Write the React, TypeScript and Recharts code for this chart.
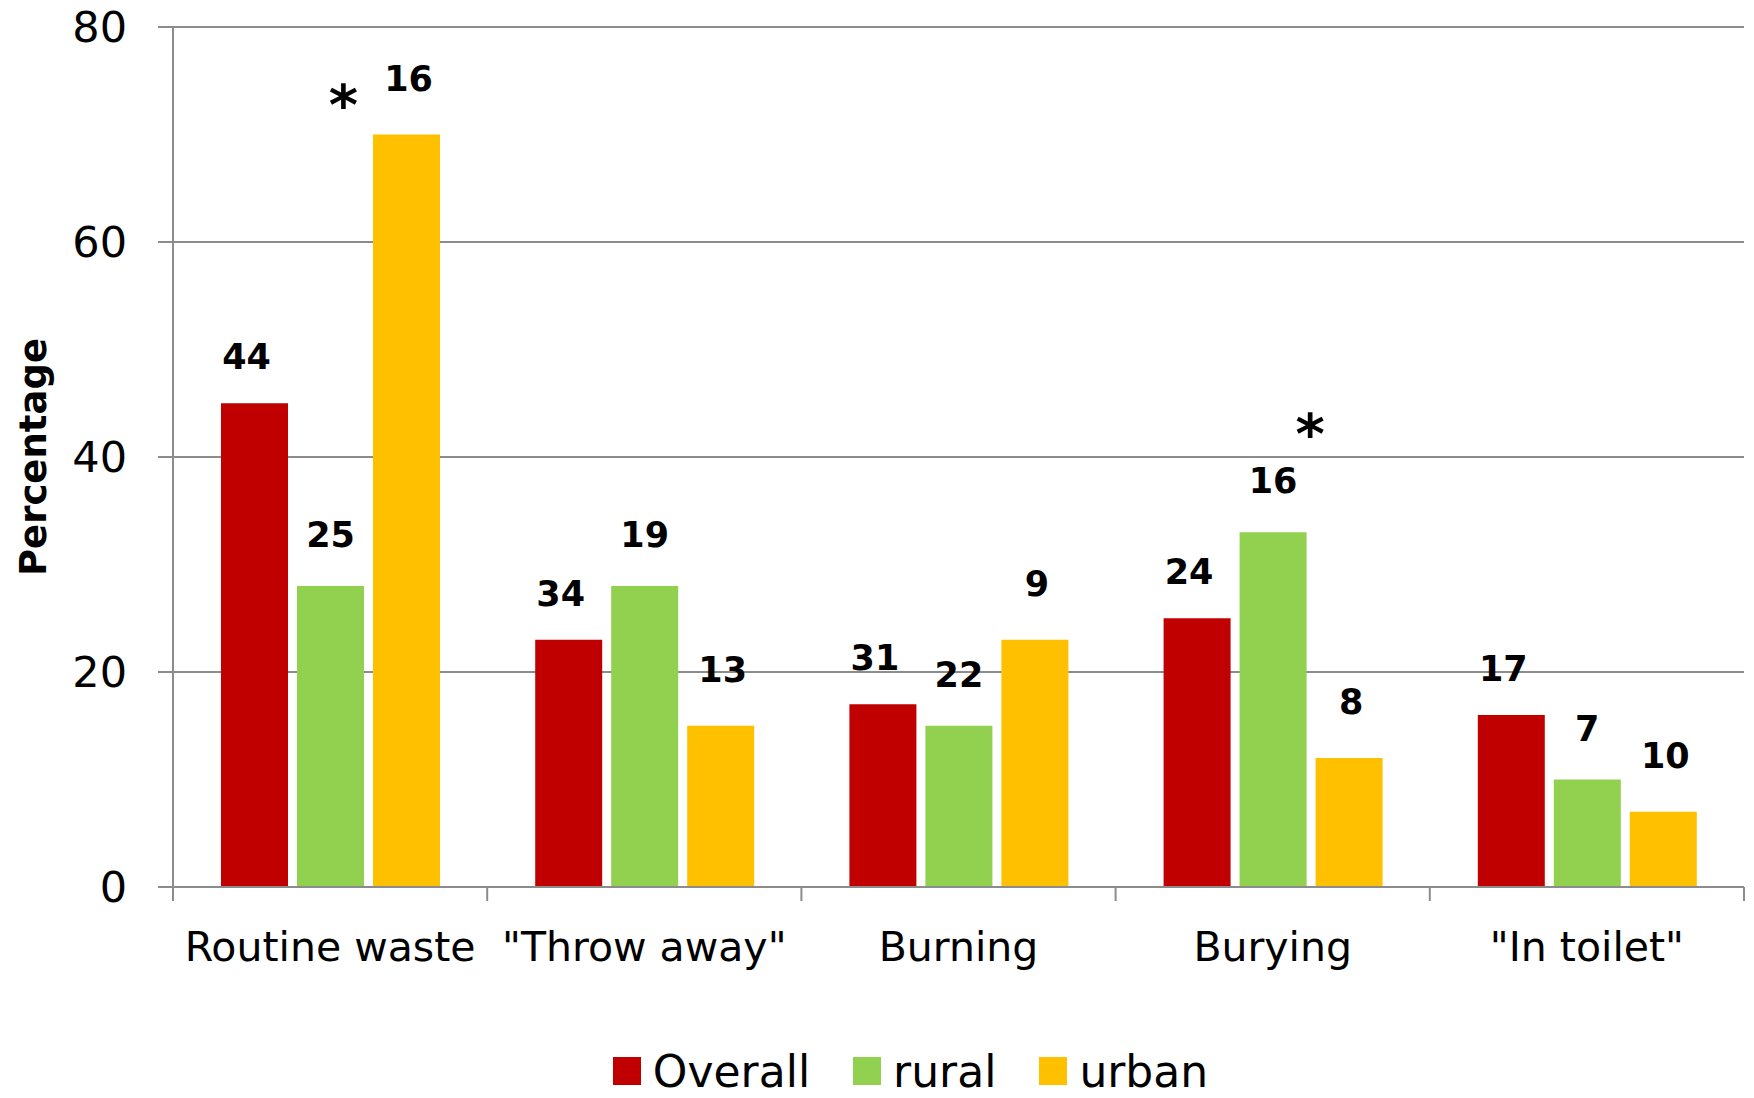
import { Bar, BarChart, CartesianGrid, LabelList, Legend, XAxis, YAxis } from "recharts";

const categories = ["Routine waste", "\"Throw away\"", "Burning", "Burying", "\"In toilet\""];
const overall = [45, 23, 17, 25, 16];
const rural = [28, 28, 15, 33, 10];
const urban = [70, 15, 23, 12, 7];
// numbers printed above the bars
const overallLabels = [44, 34, 31, 24, 17];
const ruralLabels = [25, 19, 22, 16, 7];
const urbanLabels = [16, 13, 9, 8, 10];
const ruralStars = ["", "", "", "*", ""];
const urbanStars = ["*", "", "", "", ""];
const yTicks = [0, 20, 40, 60, 80];

const GRID = "#8c8c8c";
const FONT = "'DejaVu Sans', sans-serif";
const TICK_MARGIN = 45;

const rows = categories.map((name, i) => ({
  name,
  overall: overall[i],
  rural: rural[i],
  urban: urban[i],
  overallN: overallLabels[i],
  ruralN: ruralLabels[i],
  urbanN: urbanLabels[i]
}));

const series = [
  { key: "overall", labelKey: "overallN", name: "Overall", color: "#C00000", lift: 46, dx: -8, stars: null as string[] | null, starDx: 0, starDy: 0 },
  { key: "rural", labelKey: "ruralN", name: "rural", color: "#92D050", lift: 51, dx: 0, stars: ruralStars, starDx: 37, starDy: -48 },
  { key: "urban", labelKey: "urbanN", name: "urban", color: "#FFC000", lift: 56, dx: 2, stars: urbanStars, starDx: -63, starDy: 26 }
];

function makeLabel(s: (typeof series)[number]) {
  return (props: any) => {
    const { x, y, width, value, index } = props;
    const cx = Number(x) + Number(width) / 2 + s.dx;
    const cy = Number(y) - s.lift;
    const star = s.stars ? s.stars[index] : "";
    return (
      <g>
        <text x={cx} y={cy} textAnchor="middle" dominantBaseline="central" fontSize={35} fontWeight="bold" fill="#000">
          {value}
        </text>
        {star ? (
          <text x={cx - s.dx + s.starDx} y={cy + s.starDy} textAnchor="middle" dominantBaseline="central" fontSize={56} fontWeight="bold" fill="#000">
            {star}
          </text>
        ) : null}
      </g>
    );
  };
}

// category label plus the tick marks on the category boundaries
function CategoryTick(props: any) {
  const { x, y, payload } = props;
  const half = payload && payload.offset ? payload.offset : 157.1;
  const axisY = y - TICK_MARGIN;
  const last = payload.index === categories.length - 1;
  return (
    <g>
      <line x1={x - half} x2={x - half} y1={axisY} y2={axisY + 14} stroke={GRID} strokeWidth={2} />
      {last ? <line x1={x + half} x2={x + half} y1={axisY} y2={axisY + 14} stroke={GRID} strokeWidth={2} /> : null}
      <text x={x} y={y} dy="0.71em" textAnchor="middle" fontSize={41} fill="#000">
        {payload.value}
      </text>
    </g>
  );
}

function LegendBox() {
  return (
    <div style={{ height: 54, display: "flex", justifyContent: "center", alignItems: "center", paddingLeft: 120, fontFamily: FONT }}>
      {series.map((s) => (
        <div key={s.key} style={{ display: "flex", alignItems: "center", marginRight: 43 }}>
          <span style={{ width: 28, height: 28, background: s.color, display: "inline-block", marginRight: 12 }} />
          <span style={{ fontSize: 44, color: "#000", lineHeight: "normal" }}>{s.name}</span>
        </div>
      ))}
    </div>
  );
}

export default function App() {
  return (
    <div style={{ position: "absolute", left: 0, top: 0, width: 1754, height: 1098, background: "#fff", fontFamily: FONT }}>
      <BarChart width={1754} height={1098} data={rows} margin={{ top: 27, right: 10, bottom: 0, left: 0 }} barGap={9} barSize={67}>
        <CartesianGrid horizontal vertical={false} stroke={GRID} strokeWidth={2} />
        <XAxis
          dataKey="name"
          interval={0}
          height={157}
          tickLine={false}
          tickSize={0}
          tickMargin={TICK_MARGIN}
          axisLine={{ stroke: GRID, strokeWidth: 2 }}
          tick={<CategoryTick />}
        />
        <YAxis
          domain={[0, 80]}
          ticks={yTicks}
          width={173}
          tickSize={15}
          tickMargin={31}
          axisLine={{ stroke: GRID, strokeWidth: 2 }}
          tickLine={{ stroke: GRID, strokeWidth: 2 }}
          tick={{ fontSize: 43, fill: "#000" }}
          label={{
            content: (p: any) => {
              const vb = p.viewBox || {};
              const cy = Number(vb.y) + Number(vb.height) / 2;
              return (
                <text x={33} y={cy} transform={`rotate(-90, 33, ${cy})`} textAnchor="middle" dominantBaseline="central" fontSize={37} fontWeight="bold" fill="#000">
                  Percentage
                </text>
              );
            }
          }}
        />
        <Legend verticalAlign="bottom" content={() => <LegendBox />} />
        {series.map((s) => (
          <Bar key={s.key} dataKey={s.key} name={s.name} fill={s.color} isAnimationActive={false}>
            <LabelList dataKey={s.labelKey} content={makeLabel(s)} />
          </Bar>
        ))}
      </BarChart>
    </div>
  );
}
